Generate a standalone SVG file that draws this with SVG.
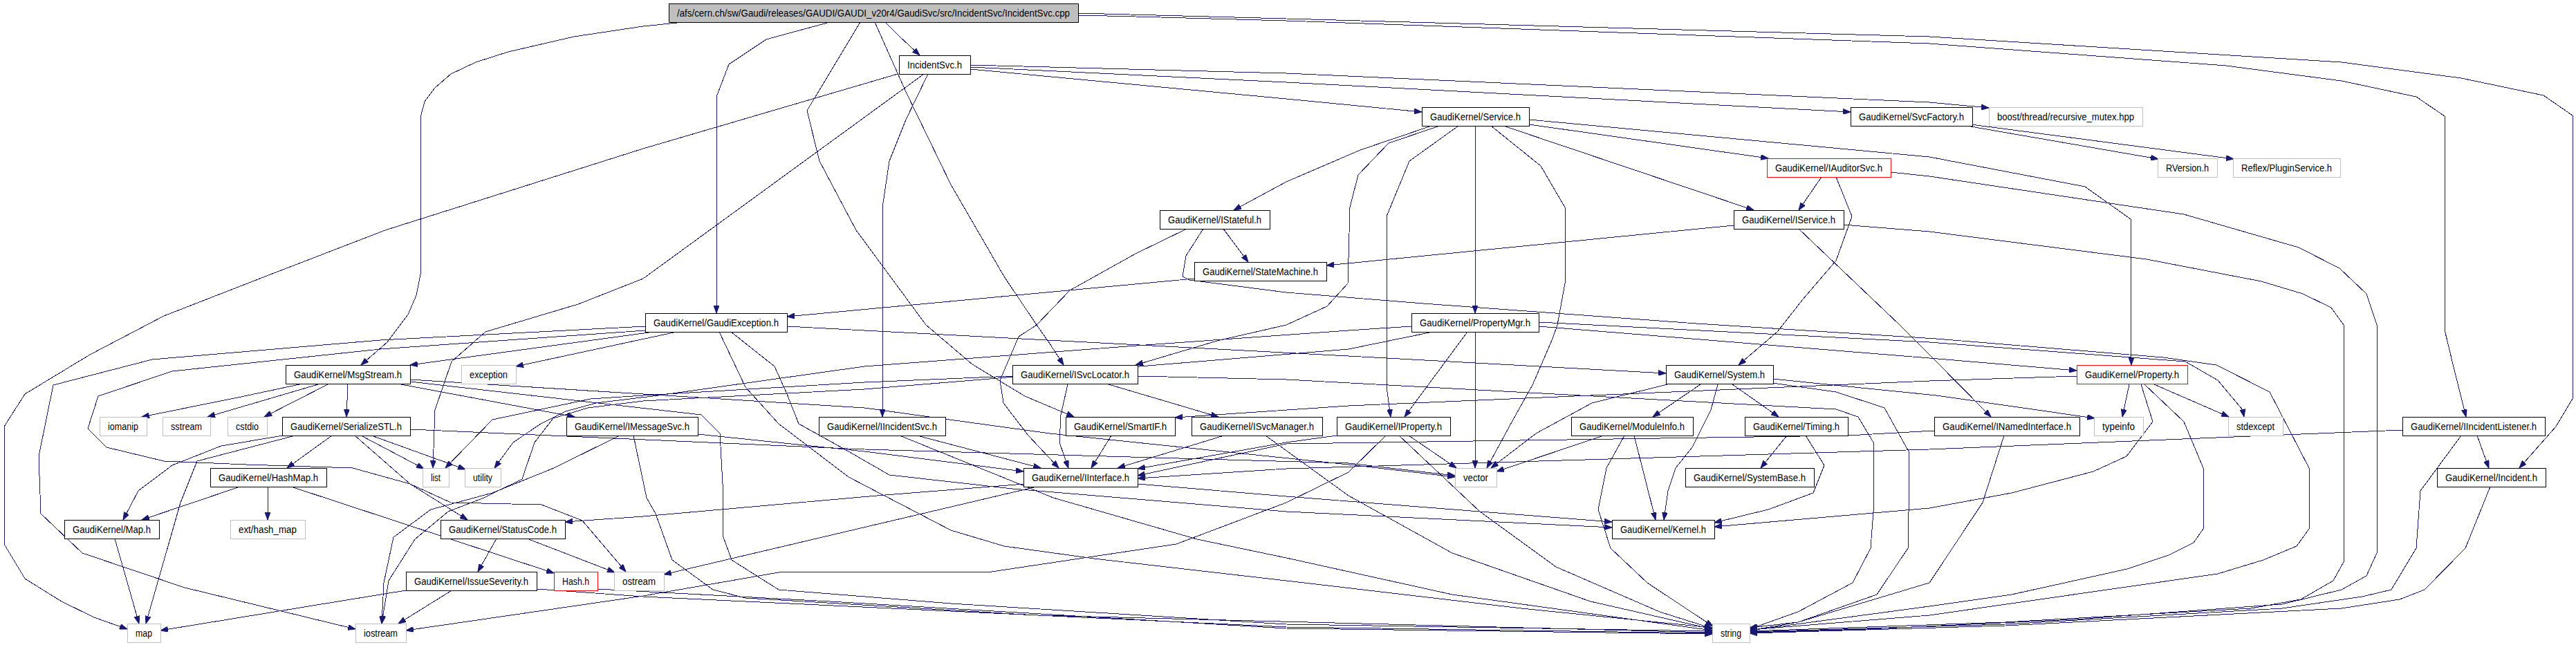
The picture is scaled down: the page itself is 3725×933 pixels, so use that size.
<svg xmlns="http://www.w3.org/2000/svg" width="3725" height="933" viewBox="0 0 3725 933">
<style>
.node rect{fill:#fff;stroke:#000;stroke-width:1;shape-rendering:crispEdges}
.ext rect{stroke:#bfbfbf}
.red rect{stroke:#ff0000}
.root rect{fill:#bfbfbf}
text{font-family:"Liberation Sans",Arial,sans-serif;font-size:14px;fill:#000}
#edges path{fill:none;stroke:#191970;stroke-width:1;stroke-linejoin:round;marker-end:url(#a);shape-rendering:crispEdges}
</style>
<defs>
<marker id="a" markerWidth="12" markerHeight="8" refX="11" refY="4" orient="auto" markerUnits="userSpaceOnUse"><path d="M0,0 L11,4 L0,8 z" fill="#191970" stroke="#191970" stroke-width="1"/></marker>
</defs>
<rect width="3725" height="933" fill="#fff"/>
<g id="edges">
<path d="M1280,32 L1300,52 L1330,80"/>
<path d="M1200,32 L1108,57 L1054,93 L1036,140 L1036,453"/>
<path d="M989,32 L930,38 L830,53 L735,75 L688,90 L652,107 L629,127 L614,147 L608,170 L608,397 L602,427 L590,455 L560,495 L522,528"/>
<path d="M1265,32 L1310,133 L1375,267 L1452,400 L1499,470 L1518,497 L1538,528"/>
<path d="M1244,32 L1167,160 L1185,233 L1238,333 L1339,470 L1406,527 L1482,573 L1553,603"/>
<path d="M1559,22 L1642,24 L1860,30 L2790,63 L3219,95 L3386,117 L3494,140 L3535,168 L3535,477 L3547,527 L3566,603"/>
<path d="M1559,19 L1860,27 L2790,53 L3386,90 L3559,113 L3678,138 L3720,167 L3720,577 L3696,617 L3643,677"/>
<path d="M1298,107 L930,215 L557,333 L391,397 L237,457 L130,513 L36,570 L6,617 L6,787 L36,837 L89,870 L136,893 L184,910"/>
<path d="M1336,107 L930,403 L836,440 L702,480 L653,523 L629,593 L626,677"/>
<path d="M1342,107 L1310,173 L1286,233 L1276,300 L1276,603"/>
<path d="M1403,100 L1860,143 L2056,162"/>
<path d="M1403,97 L1860,119 L2676,162"/>
<path d="M1403,94 L1860,106 L2790,148 L2876,156"/>
<path d="M2070,182 L1967,217 L1860,263 L1784,304"/>
<path d="M2082,182 L2008,207 L1964,253 L1952,300 L1949,410 L1919,443 L1860,470 L1760,493 L1642,528"/>
<path d="M2109,182 L2038,233 L2005,313 L2005,560 L2011,603"/>
<path d="M2133,182 L2133,453"/>
<path d="M2156,182 L2228,240 L2263,300 L2263,410 L2252,470 L2245,490 L2216,557 L2188,607 L2150,677"/>
<path d="M2174,182 L2536,304"/>
<path d="M2211,180 L2557,229"/>
<path d="M2211,173 L2790,227 L3015,270 L3081,317 L3082,528"/>
<path d="M2844,182 L3121,230"/>
<path d="M2850,180 L3230,230"/>
<path d="M2634,256 L2601,304"/>
<path d="M2655,256 L2678,313 L2655,377 L2607,433 L2570,480 L2514,528"/>
<path d="M2734,249 L2790,255 L3158,310 L3324,358 L3383,388 L3422,425 L3437,470 L3437,800 L3422,833 L3386,853 L3300,874 L3000,896 L2700,910 L2530,915"/>
<path d="M2507,326 L1918,384"/>
<path d="M2601,331 L2747,470 L2790,513 L2879,603"/>
<path d="M2665,325 L2790,335 L3104,375 L3270,407 L3330,425 L3371,445 L3389,470 L3389,813 L3374,840 L3327,867 L3255,880 L2900,900 L2530,913"/>
<path d="M1716,331 L1642,367 L1547,420 L1499,470 L1473,487 L1446,550 L1451,583 L1487,630 L1531,677"/>
<path d="M1769,331 L1805,379"/>
<path d="M1740,331 L1715,370 L1710,400 L1720,405 L1860,423 L2058,439 L2453,468 L2800,490 L3128,517 L3205,528 L3282,567 L3339,677 L3339,765 L3321,790 L3273,810 L3207,830 L2790,890 L2530,911"/>
<path d="M1727,403 L1138,458"/>
<path d="M938,481 L593,528"/>
<path d="M974,481 L746,530"/>
<path d="M933,472 L550,492 L220,520 L77,557 L56,660 L59,743 L119,800 L267,850 L514,910"/>
<path d="M933,478 L550,505 L249,537 L142,573 L127,620 L154,647 L237,667 L356,672 L510,677 L593,700 L676,752"/>
<path d="M1138,472 L1250,478 L1950,515 L2409,540"/>
<path d="M1040,480 L1078,560 L1126,613 L1227,690 L1375,767 L1452,790 L1582,808 L1860,840 L2200,880 L2476,908"/>
<path d="M1057,480 L1120,530 L1138,570 L1155,613 L1227,653 L1286,687 L1464,707 L1860,740 L2331,763"/>
<path d="M2122,480 L2031,603"/>
<path d="M2133,480 L2133,677"/>
<path d="M2225,472 L2790,518 L3003,536"/>
<path d="M2225,466 L2790,495 L3160,523 L3207,550 L3243,593 L3245,603"/>
<path d="M2041,472 L1950,478 L1643,500 L1250,530 L952,572 L862,583 L818,595 L782,613 L742,640 L715,677"/>
<path d="M2072,480 L1950,505 L1250,563 L930,580 L850,590 L800,605 L773,640 L755,693 L700,720 L648,740 L600,780 L562,840 L552,902"/>
<path d="M433,556 L344,575 L205,603"/>
<path d="M460,556 L300,603"/>
<path d="M474,556 L382,603"/>
<path d="M503,556 L501,603"/>
<path d="M580,556 L831,603"/>
<path d="M593,549 L1250,590 L1518,627 L1950,672 L2104,690"/>
<path d="M593,552 L1014,600 L1041,627 L1045,700 L1046,777 L1058,810 L1126,853 L1375,873 L1860,903 L2476,913"/>
<path d="M409,630 L320,645 L249,673 L200,710 L178,752"/>
<path d="M427,630 L285,667 L261,727 L211,902"/>
<path d="M480,630 L415,677"/>
<path d="M513,630 L593,700 L652,727 L783,730 L842,753 L905,827"/>
<path d="M522,630 L613,678"/>
<path d="M537,630 L673,679"/>
<path d="M593,621 L1250,650 L1950,670 L2104,688"/>
<path d="M1009,628 L1250,653 L1480,682"/>
<path d="M896,630 L801,677 L712,713 L623,737 L569,777 L555,843 L552,902"/>
<path d="M916,630 L935,720 L948,743 L972,810 L1031,853 L1078,865 L1500,890 L2476,915"/>
<path d="M1326,630 L1505,677"/>
<path d="M1301,630 L1375,660 L1523,720 L1731,780 L1860,807 L2100,860 L2476,912"/>
<path d="M1607,630 L1578,677"/>
<path d="M1544,556 L1534,600 L1532,640 L1545,677"/>
<path d="M1603,556 L1762,603"/>
<path d="M1464,544 L1250,553 L930,572 L854,577 L712,607 L644,677"/>
<path d="M1645,544 L1860,549 L2655,592 L2687,603 L2709,640 L2709,740 L2705,793 L2679,843 L2600,885 L2530,910"/>
<path d="M1770,630 L1616,677"/>
<path d="M1830,630 L1950,717 L2100,800 L2300,870 L2476,910"/>
<path d="M1933,630 L1860,640 L1645,678"/>
<path d="M2004,630 L1950,683 L1860,727 L1701,787 L1434,827 L1126,828 L930,862 L587,912"/>
<path d="M2023,630 L2140,740 L2250,820 L2400,885 L2476,909"/>
<path d="M2037,630 L2106,677"/>
<path d="M2411,556 L2302,583 L2221,627 L2156,677"/>
<path d="M2459,556 L2390,603"/>
<path d="M2484,556 L2474,593 L2447,647 L2423,677 L2412,710 L2406,752"/>
<path d="M2505,556 L2572,603"/>
<path d="M2563,548 L2800,572 L3029,605"/>
<path d="M2563,554 L2655,567 L2725,590 L2760,653 L2760,740 L2759,793 L2714,860 L2600,900 L2530,908"/>
<path d="M2319,630 L2164,682"/>
<path d="M2349,630 L2323,677 L2311,737 L2329,793 L2382,843 L2477,906"/>
<path d="M2363,630 L2394,752"/>
<path d="M2584,630 L2546,677"/>
<path d="M2611,630 L2638,673 L2622,713 L2557,737 L2479,756"/>
<path d="M2797,623 L2672,630 L1860,642 L1645,688"/>
<path d="M2898,630 L2867,727 L2790,843 L2600,900 L2530,912"/>
<path d="M3003,544 L2790,551 L1950,587 L1699,604"/>
<path d="M3079,556 L3069,603"/>
<path d="M3096,556 L3113,610 L3075,660 L3027,682 L2909,713 L2790,735 L2479,762"/>
<path d="M3101,556 L3158,610 L3186,677 L3186,765 L3172,785 L3136,803 L3076,823 L2909,860 L2790,877 L2530,912"/>
<path d="M3115,556 L3223,603"/>
<path d="M3474,622 L2790,650 L1860,678 L1645,692"/>
<path d="M3582,630 L3599,677"/>
<path d="M3559,630 L3500,710 L3494,793 L3458,853 L3416,863 L3300,880 L2900,903 L2530,914"/>
<path d="M3601,704 L3565,793 L3506,853 L3470,867 L3386,880 L2900,905 L2530,916"/>
<path d="M1482,700 L1268,717 L930,747 L817,755"/>
<path d="M1499,704 L960,831"/>
<path d="M1645,700 L1860,718 L2331,755"/>
<path d="M718,779 L691,827"/>
<path d="M762,779 L889,828"/>
<path d="M347,704 L205,752"/>
<path d="M387,704 L387,752"/>
<path d="M421,704 L801,829"/>
<path d="M166,779 L201,902"/>
<path d="M593,853 L232,912"/>
<path d="M655,853 L576,902"/>
<path d="M777,852 L930,863 L1860,907 L2476,916"/>
<path d="M864,852 L1200,870 L1860,909 L2476,917"/>
</g>
<g id="n_root" class="node root"><rect x="967" y="5" width="592" height="27"/><text x="979" y="24" textLength="568" lengthAdjust="spacingAndGlyphs">/afs/cern.ch/sw/Gaudi/releases/GAUDI/GAUDI_v20r4/GaudiSvc/src/IncidentSvc/IncidentSvc.cpp</text></g>
<g id="n_IncidentSvc_h" class="node"><rect x="1300" y="80" width="103" height="27"/><text x="1312" y="99" textLength="79" lengthAdjust="spacingAndGlyphs">IncidentSvc.h</text></g>
<g id="n_Service" class="node"><rect x="2056" y="155" width="155" height="27"/><text x="2068" y="174" textLength="131" lengthAdjust="spacingAndGlyphs">GaudiKernel/Service.h</text></g>
<g id="n_SvcFactory" class="node"><rect x="2676" y="155" width="176" height="27"/><text x="2688" y="174" textLength="152" lengthAdjust="spacingAndGlyphs">GaudiKernel/SvcFactory.h</text></g>
<g id="n_boost" class="node ext"><rect x="2876" y="155" width="222" height="27"/><text x="2888" y="174" textLength="198" lengthAdjust="spacingAndGlyphs">boost/thread/recursive_mutex.hpp</text></g>
<g id="n_IAuditorSvc" class="node red"><rect x="2555" y="229" width="179" height="27"/><text x="2567" y="248" textLength="155" lengthAdjust="spacingAndGlyphs">GaudiKernel/IAuditorSvc.h</text></g>
<g id="n_RVersion" class="node ext"><rect x="3120" y="229" width="86" height="27"/><text x="3132" y="248" textLength="62" lengthAdjust="spacingAndGlyphs">RVersion.h</text></g>
<g id="n_PluginService" class="node ext"><rect x="3229" y="229" width="155" height="27"/><text x="3241" y="248" textLength="131" lengthAdjust="spacingAndGlyphs">Reflex/PluginService.h</text></g>
<g id="n_IStateful" class="node"><rect x="1677" y="304" width="159" height="27"/><text x="1689" y="323" textLength="135" lengthAdjust="spacingAndGlyphs">GaudiKernel/IStateful.h</text></g>
<g id="n_IService" class="node"><rect x="2507" y="304" width="159" height="27"/><text x="2519" y="323" textLength="135" lengthAdjust="spacingAndGlyphs">GaudiKernel/IService.h</text></g>
<g id="n_StateMachine" class="node"><rect x="1727" y="379" width="191" height="27"/><text x="1739" y="398" textLength="167" lengthAdjust="spacingAndGlyphs">GaudiKernel/StateMachine.h</text></g>
<g id="n_GaudiException" class="node"><rect x="933" y="453" width="205" height="27"/><text x="945" y="472" textLength="181" lengthAdjust="spacingAndGlyphs">GaudiKernel/GaudiException.h</text></g>
<g id="n_PropertyMgr" class="node"><rect x="2041" y="453" width="184" height="27"/><text x="2053" y="472" textLength="160" lengthAdjust="spacingAndGlyphs">GaudiKernel/PropertyMgr.h</text></g>
<g id="n_MsgStream" class="node"><rect x="413" y="528" width="180" height="27"/><text x="425" y="547" textLength="156" lengthAdjust="spacingAndGlyphs">GaudiKernel/MsgStream.h</text></g>
<g id="n_exception" class="node ext"><rect x="667" y="528" width="79" height="27"/><text x="679" y="547" textLength="55" lengthAdjust="spacingAndGlyphs">exception</text></g>
<g id="n_ISvcLocator" class="node"><rect x="1464" y="528" width="181" height="27"/><text x="1476" y="547" textLength="157" lengthAdjust="spacingAndGlyphs">GaudiKernel/ISvcLocator.h</text></g>
<g id="n_System" class="node"><rect x="2409" y="528" width="155" height="27"/><text x="2421" y="547" textLength="131" lengthAdjust="spacingAndGlyphs">GaudiKernel/System.h</text></g>
<g id="n_Property" class="node red"><rect x="3003" y="528" width="160" height="27"/><text x="3015" y="547" textLength="136" lengthAdjust="spacingAndGlyphs">GaudiKernel/Property.h</text></g>
<g id="n_iomanip" class="node ext"><rect x="144" y="603" width="68" height="27"/><text x="156" y="622" textLength="44" lengthAdjust="spacingAndGlyphs">iomanip</text></g>
<g id="n_sstream" class="node ext"><rect x="235" y="603" width="69" height="27"/><text x="247" y="622" textLength="45" lengthAdjust="spacingAndGlyphs">sstream</text></g>
<g id="n_cstdio" class="node ext"><rect x="329" y="603" width="57" height="27"/><text x="341" y="622" textLength="33" lengthAdjust="spacingAndGlyphs">cstdio</text></g>
<g id="n_SerializeSTL" class="node"><rect x="408" y="603" width="185" height="27"/><text x="420" y="622" textLength="161" lengthAdjust="spacingAndGlyphs">GaudiKernel/SerializeSTL.h</text></g>
<g id="n_IMessageSvc" class="node"><rect x="819" y="603" width="190" height="27"/><text x="831" y="622" textLength="166" lengthAdjust="spacingAndGlyphs">GaudiKernel/IMessageSvc.h</text></g>
<g id="n_IIncidentSvc" class="node"><rect x="1184" y="603" width="183" height="27"/><text x="1196" y="622" textLength="159" lengthAdjust="spacingAndGlyphs">GaudiKernel/IIncidentSvc.h</text></g>
<g id="n_SmartIF" class="node"><rect x="1541" y="603" width="158" height="27"/><text x="1553" y="622" textLength="134" lengthAdjust="spacingAndGlyphs">GaudiKernel/SmartIF.h</text></g>
<g id="n_ISvcManager" class="node"><rect x="1723" y="603" width="189" height="27"/><text x="1735" y="622" textLength="165" lengthAdjust="spacingAndGlyphs">GaudiKernel/ISvcManager.h</text></g>
<g id="n_IProperty" class="node"><rect x="1933" y="603" width="164" height="27"/><text x="1945" y="622" textLength="140" lengthAdjust="spacingAndGlyphs">GaudiKernel/IProperty.h</text></g>
<g id="n_ModuleInfo" class="node"><rect x="2272" y="603" width="176" height="27"/><text x="2284" y="622" textLength="152" lengthAdjust="spacingAndGlyphs">GaudiKernel/ModuleInfo.h</text></g>
<g id="n_Timing" class="node"><rect x="2523" y="603" width="149" height="27"/><text x="2535" y="622" textLength="125" lengthAdjust="spacingAndGlyphs">GaudiKernel/Timing.h</text></g>
<g id="n_INamedInterface" class="node"><rect x="2797" y="603" width="210" height="27"/><text x="2809" y="622" textLength="186" lengthAdjust="spacingAndGlyphs">GaudiKernel/INamedInterface.h</text></g>
<g id="n_typeinfo" class="node ext"><rect x="3028" y="603" width="71" height="27"/><text x="3040" y="622" textLength="47" lengthAdjust="spacingAndGlyphs">typeinfo</text></g>
<g id="n_stdexcept" class="node ext"><rect x="3222" y="603" width="79" height="27"/><text x="3234" y="622" textLength="55" lengthAdjust="spacingAndGlyphs">stdexcept</text></g>
<g id="n_IIncidentListener" class="node"><rect x="3474" y="603" width="206" height="27"/><text x="3486" y="622" textLength="182" lengthAdjust="spacingAndGlyphs">GaudiKernel/IIncidentListener.h</text></g>
<g id="n_HashMap" class="node"><rect x="304" y="677" width="168" height="27"/><text x="316" y="696" textLength="144" lengthAdjust="spacingAndGlyphs">GaudiKernel/HashMap.h</text></g>
<g id="n_list" class="node ext"><rect x="611" y="677" width="38" height="27"/><text x="623" y="696" textLength="14" lengthAdjust="spacingAndGlyphs">list</text></g>
<g id="n_utility" class="node ext"><rect x="672" y="677" width="52" height="27"/><text x="684" y="696" textLength="28" lengthAdjust="spacingAndGlyphs">utility</text></g>
<g id="n_IInterface" class="node"><rect x="1480" y="677" width="165" height="27"/><text x="1492" y="696" textLength="141" lengthAdjust="spacingAndGlyphs">GaudiKernel/IInterface.h</text></g>
<g id="n_vector" class="node ext"><rect x="2104" y="677" width="60" height="27"/><text x="2116" y="696" textLength="36" lengthAdjust="spacingAndGlyphs">vector</text></g>
<g id="n_SystemBase" class="node"><rect x="2437" y="677" width="186" height="27"/><text x="2449" y="696" textLength="162" lengthAdjust="spacingAndGlyphs">GaudiKernel/SystemBase.h</text></g>
<g id="n_Incident" class="node"><rect x="3524" y="677" width="157" height="27"/><text x="3536" y="696" textLength="133" lengthAdjust="spacingAndGlyphs">GaudiKernel/Incident.h</text></g>
<g id="n_Map" class="node"><rect x="93" y="752" width="137" height="27"/><text x="105" y="771" textLength="113" lengthAdjust="spacingAndGlyphs">GaudiKernel/Map.h</text></g>
<g id="n_ext_hash_map" class="node ext"><rect x="333" y="752" width="108" height="27"/><text x="345" y="771" textLength="84" lengthAdjust="spacingAndGlyphs">ext/hash_map</text></g>
<g id="n_StatusCode" class="node"><rect x="637" y="752" width="180" height="27"/><text x="649" y="771" textLength="156" lengthAdjust="spacingAndGlyphs">GaudiKernel/StatusCode.h</text></g>
<g id="n_Kernel" class="node"><rect x="2331" y="752" width="148" height="27"/><text x="2343" y="771" textLength="124" lengthAdjust="spacingAndGlyphs">GaudiKernel/Kernel.h</text></g>
<g id="n_IssueSeverity" class="node"><rect x="587" y="827" width="189" height="27"/><text x="599" y="846" textLength="165" lengthAdjust="spacingAndGlyphs">GaudiKernel/IssueSeverity.h</text></g>
<g id="n_Hash" class="node red"><rect x="801" y="827" width="63" height="27"/><text x="813" y="846" textLength="39" lengthAdjust="spacingAndGlyphs">Hash.h</text></g>
<g id="n_ostream" class="node ext"><rect x="888" y="827" width="72" height="27"/><text x="900" y="846" textLength="48" lengthAdjust="spacingAndGlyphs">ostream</text></g>
<g id="n_map" class="node ext"><rect x="184" y="902" width="48" height="27"/><text x="196" y="921" textLength="24" lengthAdjust="spacingAndGlyphs">map</text></g>
<g id="n_iostream" class="node ext"><rect x="514" y="902" width="73" height="27"/><text x="526" y="921" textLength="49" lengthAdjust="spacingAndGlyphs">iostream</text></g>
<g id="n_string" class="node ext"><rect x="2476" y="902" width="54" height="27"/><text x="2488" y="921" textLength="30" lengthAdjust="spacingAndGlyphs">string</text></g>
</svg>
